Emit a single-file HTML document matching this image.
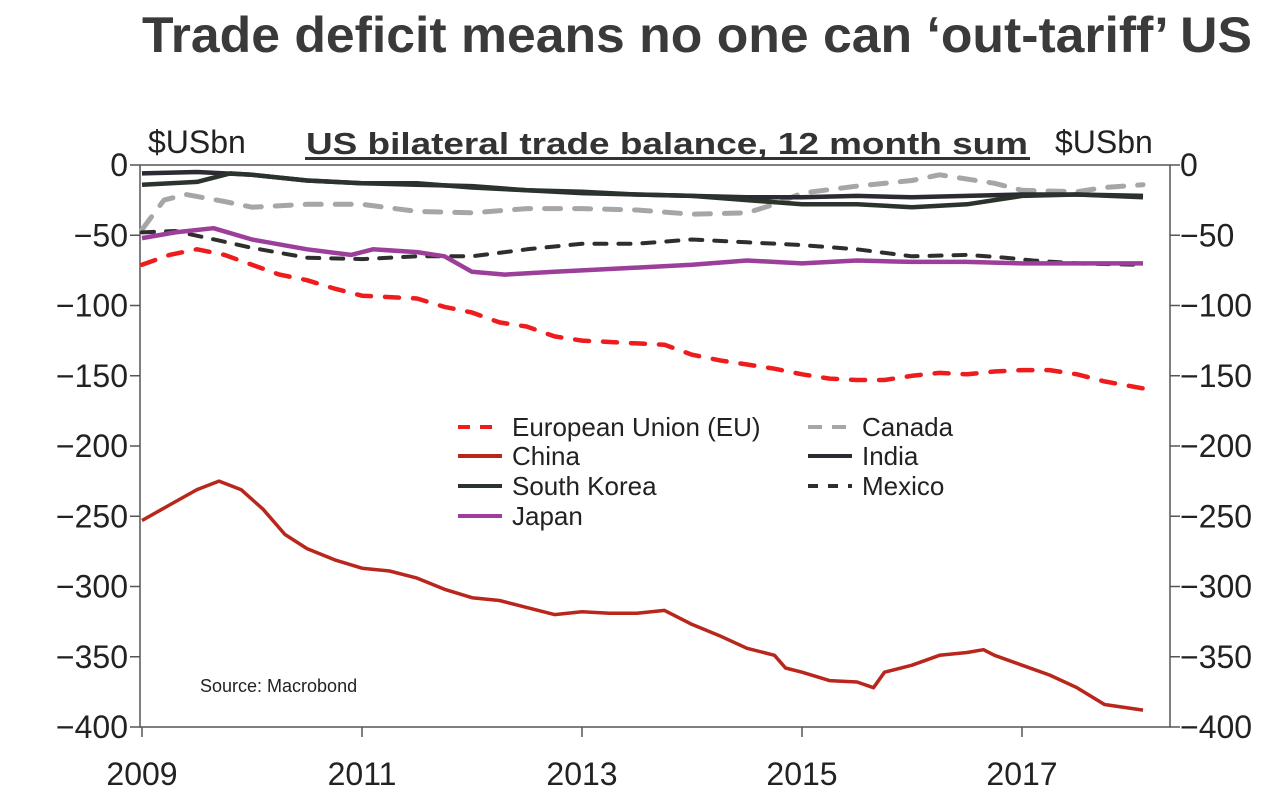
<!DOCTYPE html>
<html><head><meta charset="utf-8"><style>
body{margin:0;background:#fff;font-family:"Liberation Sans",Arial,sans-serif}
svg text{font-family:"Liberation Sans",Arial,sans-serif}
</style></head><body>
<svg id="c" width="1288" height="797" xmlns="http://www.w3.org/2000/svg">
<text x="142" y="52" font-size="50" font-weight="bold" fill="#3a3a3a" textLength="1110" lengthAdjust="spacingAndGlyphs">Trade deficit means no one can ‘out-tariff’ US</text>
<text x="306" y="154" font-size="31" font-weight="bold" fill="#333" textLength="722" lengthAdjust="spacingAndGlyphs">US bilateral trade balance, 12 month sum</text>
<rect x="305" y="157" width="725" height="3" fill="#333"/>
<text x="148" y="153" font-size="32" fill="#222">$USbn</text>
<text x="1055" y="153" font-size="32" fill="#222">$USbn</text>
<g id="axes"></g>
<g id="series"></g>
<g id="legend"></g>
<text x="200" y="692" font-size="18" fill="#222">Source: Macrobond</text>
</svg>
<script>
const yTicks=[0,-50,-100,-150,-200,-250,-300,-350,-400];
const xTicks=[2009,2011,2013,2015,2017];
const chinaX=[2009,2009.25,2009.5,2009.7,2009.9,2010.1,2010.3,2010.5,2010.75,2011,2011.25,2011.5,2011.75,2012,2012.25,2012.5,2012.75,2013,2013.25,2013.5,2013.75,2014,2014.25,2014.5,2014.75,2014.85,2015,2015.25,2015.5,2015.65,2015.75,2016,2016.25,2016.5,2016.65,2016.75,2017,2017.25,2017.5,2017.75,2018.1];
const chinaY=[-253,-242,-231,-225,-231,-245,-263,-273,-281,-287,-289,-294,-302,-308,-310,-315,-320,-318,-319,-319,-317,-327,-335,-344,-349,-358,-361,-367,-368,-372,-361,-356,-349,-347,-345,-349,-356,-363,-372,-384,-388];
const euX=[2009,2009.25,2009.5,2009.75,2010,2010.25,2010.5,2010.75,2011,2011.5,2011.75,2012,2012.25,2012.5,2012.75,2013,2013.25,2013.5,2013.75,2014,2014.25,2014.5,2014.75,2015,2015.25,2015.5,2015.75,2016,2016.25,2016.5,2016.75,2017,2017.25,2017.5,2017.75,2018.1];
const euY=[-71,-64,-60,-64,-71,-78,-82,-88,-93,-95,-101,-105,-112,-115,-122,-125,-126,-127,-128,-135,-139,-142,-145,-149,-152,-153,-153,-150,-148,-149,-147,-146,-146,-149,-154,-159];
const canX=[2009,2009.2,2009.4,2009.75,2010,2010.5,2011,2011.5,2012,2012.5,2013,2013.5,2014,2014.5,2014.75,2015,2015.5,2016,2016.25,2016.75,2017,2017.5,2017.75,2018.1];
const canY=[-46,-25,-21,-26,-30,-28,-28,-33,-34,-31,-31,-32,-35,-34,-28,-20,-15,-11,-7,-13,-18,-19,-16,-14];
const halfX=[2009,2009.5,2010,2010.5,2011,2011.5,2012,2012.5,2013,2013.5,2014,2014.5,2015,2015.5,2016,2016.5,2017,2017.5,2018.1];
const indiaY=[-6,-5,-7,-11,-13,-14,-15,-18,-20,-21,-22,-23,-23,-22,-23,-22,-21,-21,-22];
const korX=[2009,2009.5,2009.8,2010,2010.5,2011,2011.5,2012,2012.5,2013,2013.5,2014,2014.5,2015,2015.5,2016,2016.5,2017,2017.5,2018.1];
const korY=[-14,-12,-6,-7,-11,-13,-13,-16,-18,-19,-21,-22,-25,-28,-28,-30,-28,-22,-21,-23];
const mexX=[2009,2009.3,2009.6,2010,2010.5,2011,2011.5,2012,2012.5,2013,2013.5,2014,2014.5,2015,2015.5,2016,2016.5,2016.85,2017.1,2017.5,2018.1];
const mexY=[-48,-47,-52,-59,-66,-67,-65,-65,-60,-56,-56,-53,-55,-57,-60,-65,-64,-66,-68,-70,-71];
const japX=[2009,2009.3,2009.65,2010,2010.5,2010.9,2011.1,2011.5,2011.75,2012,2012.3,2012.75,2013,2013.5,2014,2014.5,2015,2015.5,2016,2016.5,2017,2017.5,2018.1];
const japY=[-52,-48,-45,-53,-60,-64,-60,-62,-65,-76,-78,-76,-75,-73,-71,-68,-70,-68,-69,-69,-70,-70,-70];

const L=140,R=1170,T=165,B=727;
const sx=v=>142+(v-2009)*110;
const sy=v=>T+(0-v)*(B-T)/400;
const NS="http://www.w3.org/2000/svg";
function mk(tag,parent,attrs){const e=document.createElementNS(NS,tag);for(const k in attrs)e.setAttribute(k,attrs[k]);parent.appendChild(e);return e;}
const fmt=v=>v<0?'\u2212'+(-v):String(v);
const ax=document.getElementById('axes');
let fr=mk('rect',ax,{x:L,y:T,width:R-L,height:B-T,fill:'none',stroke:'#555','stroke-width':1.5});


yTicks.forEach(v=>{
  const y=sy(v);
  let t=mk('line',ax,{x1:L-10,x2:L,y1:y,y2:y,stroke:'#555','stroke-width':1.5});
  
  
  let t2=mk('line',ax,{x1:R,x2:R+10,y1:y,y2:y,stroke:'#555','stroke-width':1.5});
  
  
  let a=mk('text',ax,{x:L-12,y:y+11,'text-anchor':'end','font-size':32,fill:'#222'});a.textContent=fmt(v);
  
  
  let b=mk('text',ax,{x:R+10,y:y+11,'font-size':32,fill:'#222'});b.textContent=fmt(v);
  
  
});
xTicks.forEach(v=>{
  const x=sx(v);
  let t=mk('line',ax,{x1:x,x2:x,y1:B,y2:B+10,stroke:'#555','stroke-width':1.5});
  
  
  let a=mk('text',ax,{x:x,y:785,'text-anchor':'middle','font-size':32,fill:'#222'});a.textContent=v;
  
  
});
const sg=document.getElementById('series');
const series=[
 {n:'canada',x:canX,y:canY,c:'#a6a6a6',w:5,d:'16 14'},
 {n:'india',x:halfX,y:indiaY,c:'#2b2b33',w:4.5,d:''},
 {n:'south-korea',x:korX,y:korY,c:'#2a332c',w:4.5,d:''},
 {n:'mexico',x:mexX,y:mexY,c:'#2e2e2e',w:4,d:'12 12'},
 {n:'japan',x:japX,y:japY,c:'#9b3f9b',w:4.5,d:''},
 {n:'eu',x:euX,y:euY,c:'#ee1c1c',w:4.5,d:'14 14'},
 {n:'china',x:chinaX,y:chinaY,c:'#b8261c',w:3.5,d:''}
];
series.forEach(s=>{
  const pts=s.x.map((v,i)=>sx(v).toFixed(1)+','+sy(s.y[i]).toFixed(1)).join(' ');
  let p=mk('polyline',sg,{points:pts,fill:'none',stroke:s.c,'stroke-width':s.w,'stroke-dasharray':s.d,'stroke-linecap':s.d?'round':'butt','stroke-linejoin':'round'});
  
  
});
const lg=document.getElementById('legend');
const items=[
 ['European Union (EU)','#ee1c1c','12 10',458,427],['Canada','#a6a6a6','14 10',808,427],
 ['China','#b8261c','',458,456],['India','#2b2b33','',808,456],
 ['South Korea','#2a332c','',458,486],['Mexico','#2e2e2e','10 10',808,486],
 ['Japan','#9b3f9b','',458,516]];
items.forEach(it=>{
  let g=mk('g',lg,{});
  
  
  mk('line',g,{x1:it[3],x2:it[3]+44,y1:it[4],y2:it[4],stroke:it[1],'stroke-width':4,'stroke-dasharray':it[2]});
  let t=mk('text',g,{x:it[3]+54,y:it[4]+9,'font-size':26,fill:'#222'});t.textContent=it[0];
});
</script>
</body></html>
